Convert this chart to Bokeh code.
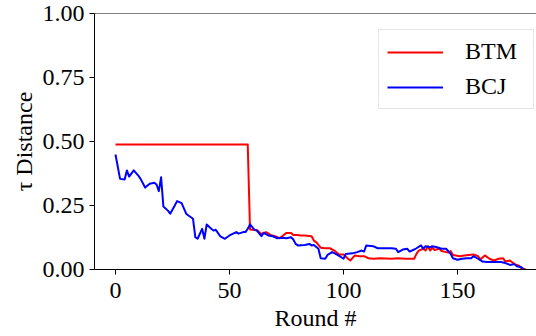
from bokeh.plotting import figure
from bokeh.models import Range1d, FixedTicker, Span, Legend, LegendItem
from bokeh.embed import file_html
from bokeh.resources import INLINE

# BTM series
btm_round = [0, 58, 59, 61, 62, 64, 66, 68, 70, 72, 75, 77, 78, 80, 81, 83, 86, 87, 88, 90,
             92, 94, 96, 98, 100, 102, 103, 105, 107, 109, 111, 113, 116, 121, 124, 127, 131,
             132, 133, 135, 136, 137, 138, 139, 140, 142, 143, 146, 147, 148, 151, 153, 155,
             157, 159, 160, 162, 164, 166, 168, 170, 171, 173, 175, 177, 178, 180]
btm_tau = [0.488, 0.488, 0.156, 0.154, 0.154, 0.139, 0.146, 0.135, 0.130, 0.122, 0.143, 0.143,
           0.135, 0.135, 0.133, 0.133, 0.130, 0.113, 0.107, 0.085, 0.083, 0.083, 0.074, 0.059,
           0.059, 0.042, 0.035, 0.055, 0.052, 0.052, 0.044, 0.042, 0.044, 0.042, 0.044, 0.042,
           0.042, 0.061, 0.074, 0.081, 0.074, 0.091, 0.074, 0.085, 0.076, 0.081, 0.072, 0.066,
           0.072, 0.057, 0.052, 0.055, 0.057, 0.059, 0.052, 0.039, 0.055, 0.042, 0.035, 0.042,
           0.044, 0.031, 0.035, 0.021, 0.015, 0.005, 0.000]

# BCJ series
bcj_round = [0, 2, 4, 5, 6, 8, 10, 11, 13, 15, 17, 18, 19, 20, 21, 23, 24, 26, 27, 29, 31, 32,
             34, 35, 36, 38, 39, 40, 42, 43, 44, 46, 48, 50, 53, 54, 56, 57, 58, 59, 61, 62, 64,
             65, 67, 69, 71, 73, 75, 77, 78, 79, 80, 83, 85, 86, 87, 89, 90, 92, 93, 95, 97, 99,
             100, 101, 104, 106, 108, 109, 110, 113, 115, 118, 121, 123, 124, 126, 128, 129, 131,
             132, 134, 135, 136, 138, 139, 141, 143, 145, 147, 148, 150, 152, 154, 156, 157, 159,
             161, 163, 166, 169, 171, 173, 175, 176, 178, 179]
bcj_tau = [0.449, 0.354, 0.352, 0.387, 0.363, 0.387, 0.367, 0.354, 0.320, 0.335, 0.339, 0.332,
           0.306, 0.360, 0.246, 0.230, 0.218, 0.250, 0.267, 0.259, 0.218, 0.211, 0.198, 0.126,
           0.120, 0.159, 0.120, 0.176, 0.159, 0.152, 0.155, 0.129, 0.120, 0.133, 0.146, 0.140,
           0.146, 0.146, 0.159, 0.176, 0.155, 0.152, 0.130, 0.143, 0.133, 0.130, 0.122, 0.124,
           0.122, 0.126, 0.117, 0.100, 0.094, 0.096, 0.100, 0.094, 0.096, 0.081, 0.044, 0.042,
           0.057, 0.068, 0.059, 0.048, 0.042, 0.061, 0.063, 0.068, 0.074, 0.070, 0.094, 0.091,
           0.083, 0.083, 0.083, 0.081, 0.068, 0.078, 0.081, 0.070, 0.078, 0.083, 0.094, 0.081,
           0.091, 0.087, 0.091, 0.087, 0.081, 0.081, 0.061, 0.044, 0.038, 0.042, 0.044, 0.044,
           0.052, 0.042, 0.031, 0.029, 0.029, 0.029, 0.025, 0.018, 0.021, 0.013, 0.009, 0.000]

x_ticks = [0, 50, 100, 150]
y_ticks = [0.0, 0.25, 0.5, 0.75, 1.0]
y_labels = ["0.00", "0.25", "0.50", "0.75", "1.00"]
series_names = ["BTM", "BCJ"]

FONT = "Liberation Serif"
FS = "24px"

p = figure(width=536, height=336, output_backend="svg", toolbar_location=None,
           x_range=Range1d(-9.21, 184.65), y_range=Range1d(0, 1),
           min_border_left=94, min_border_right=0, min_border_top=13, min_border_bottom=67)
p.outline_line_color = None
p.xgrid.visible = False
p.ygrid.visible = False
p.background_fill_color = "white"
p.border_fill_color = "white"

r1 = p.line(btm_round, btm_tau, line_color="#ff0000", line_width=2, line_join="round")
r2 = p.line(bcj_round, bcj_tau, line_color="#0000ff", line_width=2, line_join="round")

for ax in (p.xaxis[0], p.yaxis[0]):
    ax.axis_line_color = "black"
    ax.axis_line_width = 1
    ax.major_tick_line_color = "black"
    ax.major_tick_in = 0
    ax.major_tick_out = 5
    ax.minor_tick_in = 0
    ax.minor_tick_out = 0
    ax.major_label_text_font = FONT
    ax.major_label_text_font_size = FS
    ax.major_label_text_color = "black"
    ax.axis_label_text_font = FONT
    ax.axis_label_text_font_size = FS
    ax.axis_label_text_font_style = "normal"
    ax.axis_label_text_color = "black"

p.xaxis[0].ticker = FixedTicker(ticks=x_ticks)
p.yaxis[0].ticker = FixedTicker(ticks=y_ticks)
p.yaxis[0].major_label_overrides = {t: l for t, l in zip(y_ticks, y_labels)}
p.xaxis[0].axis_label = "Round #"
p.yaxis[0].axis_label = "τ Distance"
p.xaxis[0].major_label_standoff = 8
p.xaxis[0].axis_label_standoff = 4
p.yaxis[0].major_label_standoff = 5
p.yaxis[0].axis_label_standoff = 3

p.add_layout(Span(location=1, dimension="width", line_color="black", line_width=1))

legend = Legend(items=[LegendItem(label=series_names[0], renderers=[r1]),
                       LegendItem(label=series_names[1], renderers=[r2])],
                location=(284, 160), margin=0, padding=8, spacing=8,
                glyph_width=56, glyph_height=20, label_height=20, label_standoff=22,
                label_width=60,
                label_text_font=FONT, label_text_font_size=FS, label_text_color="black",
                border_line_color="#cccccc", border_line_width=1,
                background_fill_color="white", background_fill_alpha=0.8)
p.add_layout(legend, "center")

open("out.html", "w").write(file_html(p, INLINE))
